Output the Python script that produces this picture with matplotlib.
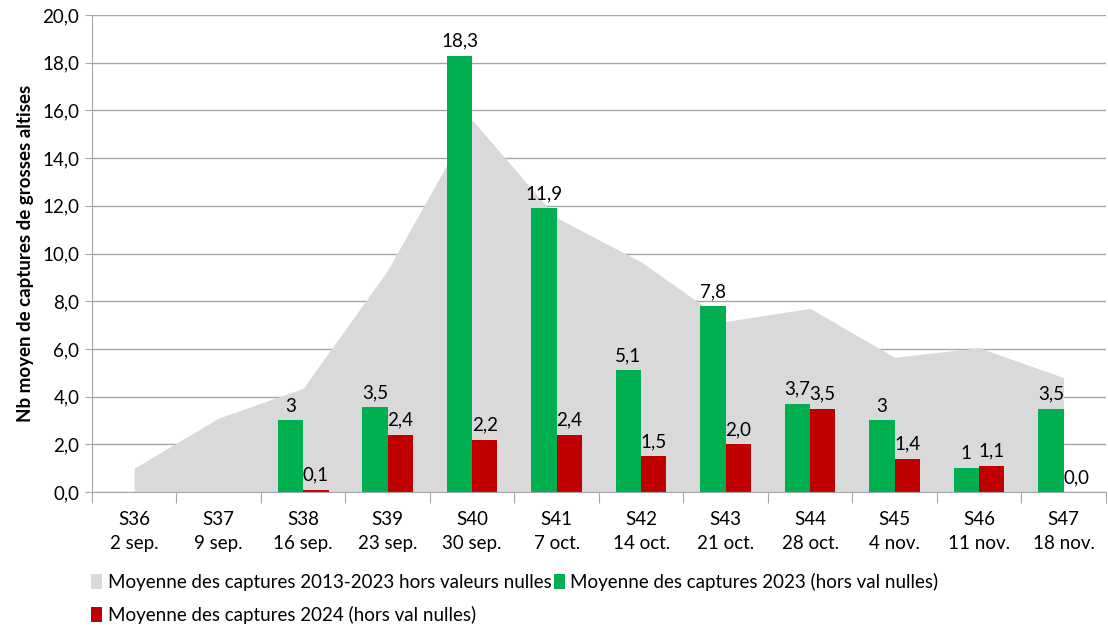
import matplotlib.pyplot as plt
import numpy as np

plt.rcParams['font.family'] = ['Lato', 'DejaVu Sans']

semaines = ['S36', 'S37', 'S38', 'S39', 'S40', 'S41', 'S42', 'S43', 'S44', 'S45', 'S46', 'S47']
dates = ['2 sep.', '9 sep.', '16 sep.', '23 sep.', '30 sep.', '7 oct.', '14 oct.',
         '21 oct.', '28 oct.', '4 nov.', '11 nov.', '18 nov.']

# moyenne 2013-2023 (aire grise)
moy_2013_2023 = [1.0, 3.1, 4.35, 9.3, 15.6, 11.5, 9.65, 7.15, 7.7, 5.65, 6.05, 4.8]
# 2023 (vert), None = pas de valeur
moy_2023 = [None, None, 3.0, 3.57, 18.3, 11.9, 5.1, 7.8, 3.7, 3.0, 1.0, 3.5]
lab_2023 = ['', '', '3', '3,5', '18,3', '11,9', '5,1', '7,8', '3,7', '3', '1', '3,5']
# 2024 (rouge)
moy_2024 = [None, None, 0.1, 2.4, 2.2, 2.4, 1.5, 2.0, 3.5, 1.4, 1.1, 0.0]
lab_2024 = ['', '', '0,1', '2,4', '2,2', '2,4', '1,5', '2,0', '3,5', '1,4', '1,1', '0,0']

c_gris = '#D9D9D9'
c_vert = '#00B050'
c_rouge = '#C00000'
c_axe = '#A6A6A6'
fs = 13.5

fig = plt.figure(figsize=(11.08, 6.26), dpi=100)
ax = fig.add_axes([0.083, 0.214, 0.915, 0.762])

x = np.arange(len(semaines))
w = 0.3

ax.fill_between(x, moy_2013_2023, 0, color=c_gris, lw=0, zorder=1,
                label='Moyenne des captures 2013-2023 hors valeurs nulles')

x23 = [i for i in x if moy_2023[i] is not None]
v23 = [moy_2023[i] for i in x23]
x24 = [i for i in x if moy_2024[i] is not None]
v24 = [moy_2024[i] for i in x24]

b23 = ax.bar(np.array(x23) - w / 2, v23, width=w, color=c_vert, zorder=2,
             label='Moyenne des captures 2023 (hors val nulles)')
b24 = ax.bar(np.array(x24) + w / 2, v24, width=w, color=c_rouge, zorder=2,
             label='Moyenne des captures 2024 (hors val nulles)')

for i, v in zip(x23, v23):
    ax.text(i - w / 2, v + 0.25, lab_2023[i], ha='center', va='bottom', fontsize=fs, zorder=3)
for i, v in zip(x24, v24):
    ax.text(i + w / 2, v + 0.25, lab_2024[i], ha='center', va='bottom', fontsize=fs, zorder=3)

ax.set_xlim(-0.5, len(semaines) - 0.5)
ax.set_ylim(0, 20)
ax.set_yticks(np.arange(0, 20.1, 2))
ax.set_yticklabels([f'{v:.1f}'.replace('.', ',') for v in np.arange(0, 20.1, 2)], fontsize=fs)
ax.yaxis.grid(True, color=c_axe, lw=1)
ax.set_axisbelow(True)

ax.set_xticks(np.arange(-0.5, len(semaines), 1))
ax.set_xticklabels([])
ax.set_xticks(x, minor=True)
ax.set_xticklabels([s + '\n' + d for s, d in zip(semaines, dates)], minor=True,
                   fontsize=fs, linespacing=1.5)
ax.tick_params(axis='x', which='major', length=8, color=c_axe)
ax.tick_params(axis='x', which='minor', length=0, pad=14)
ax.tick_params(axis='y', length=5, color=c_axe, pad=4)

for s in ['top', 'right']:
    ax.spines[s].set_visible(False)
ax.spines['left'].set_color(c_axe)
ax.spines['bottom'].set_color(c_axe)

ax.set_ylabel('Nb moyen de captures de grosses altises', fontsize=fs, fontweight='bold', labelpad=6)

h, l = ax.get_legend_handles_labels()
fig.legend([h[0], h[2], h[1]], [l[0], l[2], l[1]], ncol=2, loc='upper left',
           bbox_to_anchor=(0.067, 0.112), frameon=False, fontsize=fs,
           handlelength=0.6, handleheight=0.9, handletextpad=0.3, columnspacing=0.1,
           labelspacing=0.8)

fig.savefig('out.png', dpi=100)
